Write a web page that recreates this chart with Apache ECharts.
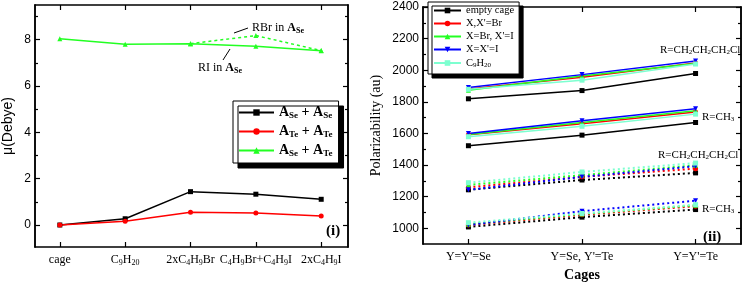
<!DOCTYPE html>
<html><head><meta charset="utf-8">
<script src="https://cdn.jsdelivr.net/npm/echarts@6/dist/echarts.min.js"></script>
<style>html,body{margin:0;padding:0;background:#fff}#c{width:743px;height:287px}</style>
</head><body><div id="c"></div>
<script>
// ---------- Left panel (i) ----------
const leftCats = ['cage', 'C{s|9}H{s|20}', '2xC{s|4}H{s|9}Br', 'C{s|4}H{s|9}Br+C{s|4}H{s|9}I', '2xC{s|4}H{s|9}I'];
const leftSeSe = [0, 0.27, 1.44, 1.33, 1.11];
const leftTeTe = [0, 0.16, 0.55, 0.52, 0.39];
const leftSeTe = [8.04, 7.81, 7.83, 7.72, 7.52];
const leftSeTeRBr = [null, null, 7.83, 8.18, 7.53];
const leftYTicks = [0, 2, 4, 6, 8];
const leftYMinor = [1, 3, 5, 7, 9];

// ---------- Right panel (ii) ----------
const cages = ["Y=Y'=Se", "Y=Se, Y'=Te", "Y=Y'=Te"];
const rightNames = ['empty cage', "X,X'=Br", "X=Br, X'=I", "X=X'=I", 'C9H20'];
// solid, R=CH2CH2CH2Cl
const emptyCl = [1819, 1871, 1979];
const brCl = [1881, 1956, 2045];
const brICl = [1873, 1964, 2043];
const iCl = [1891, 1972, 2058];
const c9Cl = [1879, 1937, 2039];
// solid, R=CH3
const emptyMe = [1522, 1589, 1669];
const brMe = [1591, 1661, 1736];
const brIMe = [1593, 1669, 1744];
const iMe = [1599, 1680, 1756];
const c9Me = [1579, 1645, 1722];
// dotted, R=CH2CH2CH2Cl
const emptyClD = [1243, 1305, 1350];
const brClD = [1259, 1325, 1377];
const brIClD = [1274, 1336, 1398];
const iClD = [1243, 1325, 1392];
const c9ClD = [1288, 1356, 1412];
// dotted, R=CH3
const emptyMeD = [1008, 1070, 1118];
const brMeD = [1020, 1085, 1139];
const brIMeD = [1025, 1090, 1145];
const iMeD = [1020, 1108, 1174];
const c9MeD = [1035, 1093, 1149];
const rightYTicks = [1000, 1200, 1400, 1600, 1800, 2000, 2200, 2400];
const rightYMinor = [1100, 1300, 1500, 1700, 1900, 2100, 2300];

const SERIF = '"Liberation Serif", "DejaVu Serif", serif';
const SANS = '"Liberation Sans", Arial, sans-serif';
const subRich = (fs, sfs, lh) => ({
  n: {fontFamily: SERIF, fontSize: fs, color: '#000', lineHeight: lh},
  b: {fontFamily: SERIF, fontSize: fs, fontWeight: 'bold', color: '#000', lineHeight: lh},
  s: {fontFamily: SERIF, fontSize: sfs, color: '#000', lineHeight: lh - Math.round(fs*0.45), padding: [Math.round(fs*0.45), 0, 0, 0]},
  sb: {fontFamily: SERIF, fontSize: sfs, fontWeight: 'bold', color: '#000', lineHeight: lh - Math.round(fs*0.45), padding: [Math.round(fs*0.45), 0, 0, 0]}
});
const wrapN = s => s.split(/(\{s\|[^}]*\})/).filter(t => t).map(t => t.startsWith('{s|') ? t : '{n|' + t + '}').join('');

const axisLine = {show: true, onZero: false, lineStyle: {color: '#000', width: 1.5}};
function xAxes(grid, min, max, ticks, labels, name) {
  return [
    {gridIndex: grid, type: 'value', position: 'bottom', min, max, axisLine,
     axisTick: {show: true, inside: true, length: 5, customValues: ticks, lineStyle: {color: '#000', width: 1.2}},
     axisLabel: {show: true, customValues: ticks, margin: 6, formatter: v => wrapN(labels[Math.round(v)]), rich: subRich(12, 8, 14)},
     splitLine: {show: false},
     name: name || '', nameLocation: 'middle', nameGap: 24,
     nameTextStyle: {fontFamily: SERIF, fontSize: 14, fontWeight: 'bold', color: '#000'}},
    {gridIndex: grid, type: 'value', position: 'top', min, max, axisLine,
     axisTick: {show: true, inside: true, length: 5, customValues: ticks, lineStyle: {color: '#000', width: 1.2}},
     axisLabel: {show: false}, splitLine: {show: false}}
  ];
}
function yAxes(grid, min, max, ticks, minor, name, nameFont, nameGap) {
  const base = {gridIndex: grid, type: 'value', min, max, axisLine, splitLine: {show: false}};
  return [
    Object.assign({}, base, {position: 'left',
      axisTick: {show: true, inside: true, length: 5, customValues: ticks, lineStyle: {color: '#000', width: 1.2}},
      axisLabel: {show: true, customValues: ticks, fontFamily: SANS, fontSize: 12, color: '#000', margin: 4, formatter: v => String(v)},
      name, nameLocation: 'middle', nameGap, nameTextStyle: {fontFamily: nameFont, fontSize: 14, color: '#000'}}),
    Object.assign({}, base, {position: 'right',
      axisTick: {show: true, inside: true, length: 5, customValues: ticks, lineStyle: {color: '#000', width: 1.2}},
      axisLabel: {show: false}}),
    Object.assign({}, base, {position: 'left',
      axisTick: {show: true, inside: true, length: 3, customValues: minor, lineStyle: {color: '#000', width: 1.2}},
      axisLabel: {show: false}}),
    Object.assign({}, base, {position: 'right',
      axisTick: {show: true, inside: true, length: 3, customValues: minor, lineStyle: {color: '#000', width: 1.2}},
      axisLabel: {show: false}})
  ];
}

const pairs = arr => arr.map((v, i) => v == null ? null : [i, v]).filter(p => p);

const leftColors = ['#000000', '#ff0000', '#22ff22'];
const leftNames = ['SeSe', 'TeTe', 'SeTe'];
const leftLegendText = {
  SeSe: '{b|A}{sb|Se}{b| + A}{sb|Se}',
  TeTe: '{b|A}{sb|Te}{b| + A}{sb|Te}',
  SeTe: '{b|A}{sb|Se}{b| + A}{sb|Te}'
};
function lser(name, data, color, symbol, dashed) {
  return {type: 'line', name, xAxisIndex: 0, yAxisIndex: 0, data: pairs(data),
    symbol, symbolSize: 5, itemStyle: {color},
    lineStyle: {color, width: 1.5, type: dashed ? [3, 3] : 'solid'}, z: 3, animation: false};
}

const rightColors = ['#000000', '#ff0000', '#22ff22', '#0000ff', '#7dffd0'];
const rightSymbols = ['rect', 'circle', 'triangle', 'triangle', 'rect'];
const rightRot = [0, 0, 0, 180, 0];
const groups = [
  {d: [emptyCl, brCl, brICl, iCl, c9Cl], dash: false},
  {d: [emptyMe, brMe, brIMe, iMe, c9Me], dash: false},
  {d: [emptyClD, brClD, brIClD, iClD, c9ClD], dash: true},
  {d: [emptyMeD, brMeD, brIMeD, iMeD, c9MeD], dash: true}
];
const rightSeries = [];
groups.forEach(g => g.d.forEach((arr, k) => {
  rightSeries.push({type: 'line', name: rightNames[k], xAxisIndex: 2, yAxisIndex: 4, data: pairs(arr),
    symbol: rightSymbols[k], symbolRotate: rightRot[k], symbolSize: 5,
    itemStyle: {color: rightColors[k]},
    lineStyle: {color: rightColors[k], width: g.dash ? 2 : 1.5, type: g.dash ? [2, 3] : 'solid'},
    z: 3, animation: false});
}));

const ann = (x, y, text, fs, extra) => ({type: 'text', x, y, z: 10,
  style: Object.assign({text, rich: subRich(fs, Math.round(fs*0.65), fs+2), verticalAlign: 'middle', align: 'left'}, extra || {})});

const option = {
  animation: false,
  backgroundColor: '#fff',
  grid: [
    {left: 32, top: 5, width: 316, height: 242},
    {left: 423, top: 7, width: 318, height: 241}
  ],
  xAxis: [].concat(
    xAxes(0, -0.38, 4.41, [0, 1, 2, 3, 4], leftCats),
    xAxes(1, -0.4, 2.4, [0, 1, 2], cages, 'Cages')
  ),
  yAxis: [].concat(
    yAxes(0, -0.95, 9.5, leftYTicks, leftYMinor, 'μ(Debye)', SANS, 20),
    yAxes(1, 900, 2400, rightYTicks, rightYMinor, 'Polarizability (au)', SERIF, 40)
  ),
  legend: [
    {data: leftNames, orient: 'vertical', left: 233, top: 101, itemWidth: 35, itemHeight: 8, itemGap: 4,
     padding: [4, 6, 5, 5], backgroundColor: '#fff', borderColor: '#000', borderWidth: 1,
     shadowColor: '#000', shadowOffsetX: 5, shadowOffsetY: 5, shadowBlur: 0.01,
     formatter: n => leftLegendText[n], textStyle: {rich: subRich(14, 9, 15)}, selectedMode: false},
    {data: rightNames, orient: 'vertical', left: 428, top: 2, itemWidth: 27, itemHeight: 7, itemGap: 2,
     padding: [3, 5, 5, 5], backgroundColor: '#fff', borderColor: '#000', borderWidth: 1,
     shadowColor: '#000', shadowOffsetX: 4, shadowOffsetY: 4, shadowBlur: 0.01,
     formatter: n => n === 'C9H20' ? '{n|C}{s|9}{n|H}{s|20}' : '{n|' + n + '}',
     textStyle: {rich: subRich(10.5, 7, 11)}, selectedMode: false}
  ],
  graphic: [
    ann(252, 28, '{n|RBr in }{b|A}{sb|Se}', 12),
    {type: 'line', z: 10, shape: {x1: 234, y1: 33, x2: 248, y2: 28}, style: {stroke: '#000', lineWidth: 1}},
    ann(198, 68, '{n|RI in }{b|A}{sb|Se}', 12),
    {type: 'line', z: 10, shape: {x1: 223, y1: 60, x2: 230, y2: 49}, style: {stroke: '#000', lineWidth: 1}},
    ann(326, 231, '{b|(i)}', 15),
    ann(703, 237, '{b|(ii)}', 15),
    ann(660, 50, '{n|R=CH}{s|2}{n|CH}{s|2}{n|CH}{s|2}{n|Cl}', 11),
    ann(702, 117, '{n|R=CH}{s|3}', 11),
    ann(658, 155, '{n|R=CH}{s|2}{n|CH}{s|2}{n|CH}{s|2}{n|Cl}', 11),
    ann(702, 209, '{n|R=CH}{s|3}', 11)
  ],
  series: [
    lser('SeSe', leftSeSe, leftColors[0], 'rect'),
    lser('TeTe', leftTeTe, leftColors[1], 'circle'),
    lser('SeTe', leftSeTe, leftColors[2], 'triangle'),
    lser('SeTeRBr', leftSeTeRBr, leftColors[2], 'triangle', true)
  ].concat(rightSeries)
};
const chart = echarts.init(document.getElementById('c'), null, {renderer: 'canvas'});
chart.setOption(option);
</script></body></html>
